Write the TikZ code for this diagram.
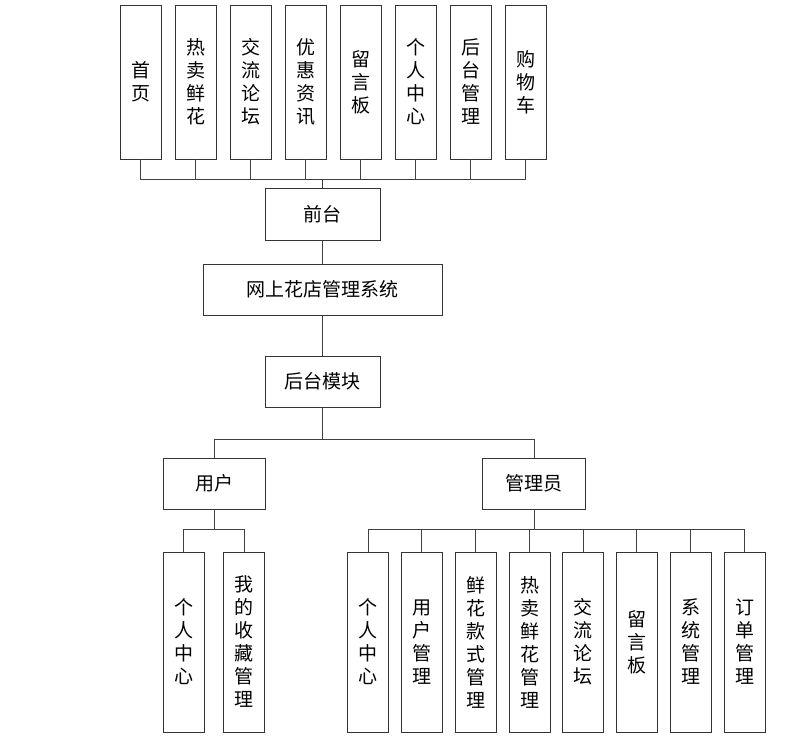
\documentclass[tikz,border=0pt]{standalone}
\usepackage{fontspec}
\newfontfamily\cjk{Noto Sans CJK SC}
\begin{document}
\begin{tikzpicture}[x=1pt,y=-1pt,
  box/.style={draw=black!80, line width=0.8pt, inner sep=0pt, align=center,
    font=\cjk\fontsize{19}{23}\selectfont, fill=white},
  tallbox/.style={box, minimum width=41pt, minimum height=154pt},
  lowbox/.style={box, minimum width=41pt, minimum height=180pt},
  wline/.style={draw=black!75, line width=0.8pt}]
\useasboundingbox (0,0) rectangle (811,741);
% top row
\node[tallbox] (t1) at (140.5,82) {首\\页};
\node[tallbox] (t2) at (195.5,82) {热\\卖\\鲜\\花};
\node[tallbox] (t3) at (250.5,82) {交\\流\\论\\坛};
\node[tallbox] (t4) at (305.5,82) {优\\惠\\资\\讯};
\node[tallbox] (t5) at (360.5,82) {留\\言\\板};
\node[tallbox] (t6) at (415.5,82) {个\\人\\中\\心};
\node[tallbox] (t7) at (470.5,82) {后\\台\\管\\理};
\node[tallbox] (t8) at (525.5,82) {购\\物\\车};
\node[box, minimum width=115pt, minimum height=52pt] (fe) at (322.5,214) {前台};
\node[box, minimum width=239pt, minimum height=51pt] (sys) at (322.5,289.5) {网上花店管理系统};
\node[box, minimum width=115pt, minimum height=51pt] (back) at (322.5,381.5) {后台模块};
\node[box, minimum width=102pt, minimum height=51pt] (user) at (214,483.5) {用户};
\node[box, minimum width=103pt, minimum height=51pt] (admin) at (534,483.5) {管理员};
% user children
\node[lowbox] (u1) at (183.5,642) {个\\人\\中\\心};
\node[lowbox] (u2) at (244,642) {我\\的\\收\\藏\\管\\理};
% admin children
\node[lowbox] (a1) at (368,642) {个\\人\\中\\心};
\node[lowbox] (a2) at (421.5,642) {用\\户\\管\\理};
\node[lowbox] (a3) at (475.5,642) {鲜\\花\\款\\式\\管\\理};
\node[lowbox] (a4) at (529.5,642) {热\\卖\\鲜\\花\\管\\理};
\node[lowbox] (a5) at (583,642) {交\\流\\论\\坛};
\node[lowbox] (a6) at (636.5,642) {留\\言\\板};
\node[lowbox] (a7) at (690.5,642) {系\\统\\管\\理};
\node[lowbox] (a8) at (744.5,642) {订\\单\\管\\理};
% bus coordinates
\coordinate (bt) at (322.5,179);
\coordinate (bb) at (322.5,439);
\coordinate (bu) at (214,529);
\coordinate (ba) at (534,529);
% connectors
\draw[wline] (fe.north) -- (bt);
\foreach \i in {1,...,8} \draw[wline] (t\i.south) |- (bt);
\draw[wline] (fe.south) -- (sys.north);
\draw[wline] (sys.south) -- (back.north);
\draw[wline] (back.south) -- (bb);
\draw[wline] (user.north) |- (bb);
\draw[wline] (admin.north) |- (bb);
\draw[wline] (user.south) -- (bu);
\draw[wline] (u1.north) |- (bu);
\draw[wline] (u2.north) |- (bu);
\draw[wline] (admin.south) -- (ba);
\foreach \i in {1,...,8} \draw[wline] (a\i.north) |- (ba);
\end{tikzpicture}
\end{document}
